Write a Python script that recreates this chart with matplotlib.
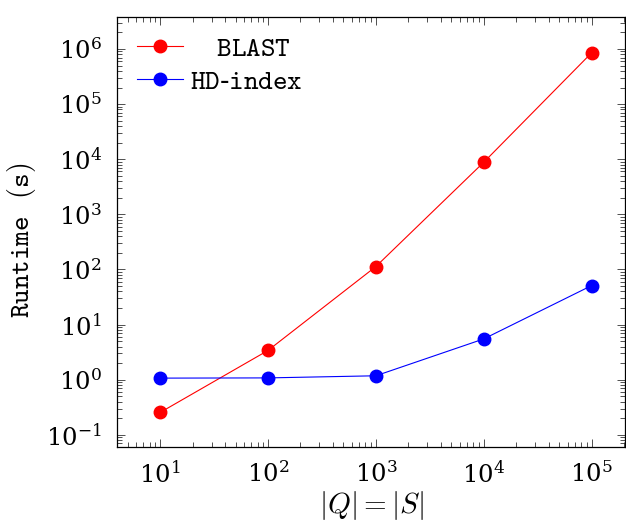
import matplotlib
matplotlib.use("Agg")
import matplotlib.pyplot as plt
from matplotlib.ticker import LogLocator, NullFormatter

plt.rcParams['mathtext.fontset'] = 'cm'
plt.rcParams['font.family'] = 'serif'
plt.rcParams['font.serif'] = ['DejaVu Serif']

sizes = [1e1, 1e2, 1e3, 1e4, 1e5]
blast = [0.255, 3.4, 113, 8800, 8.5e5]
hd_index = [1.07, 1.08, 1.18, 5.5, 51]
series_names = [r'   $\mathtt{BLAST}$', r'$\mathtt{HD}$-$\mathtt{index}$']

fig = plt.figure(figsize=(6.26, 5.25), dpi=100)
ax = fig.add_axes([117 / 626, 78 / 525, 508 / 626, 430 / 525])

ax.plot(sizes, blast, color='red', lw=0.8, marker='o', ms=9,
        label=series_names[0])
ax.plot(sizes, hd_index, color='blue', lw=0.8, marker='o', ms=9,
        label=series_names[1])

ax.set_xscale('log')
ax.set_yscale('log')
ax.set_xlim(10 ** 0.60, 10 ** 5.31)
ax.set_ylim(10 ** -1.22, 10 ** 6.58)

ax.xaxis.set_major_locator(LogLocator(base=10, numticks=20))
ax.yaxis.set_major_locator(LogLocator(base=10, numticks=20))
for axis in (ax.xaxis, ax.yaxis):
    axis.set_minor_locator(LogLocator(base=10, subs=range(2, 10), numticks=50))
    axis.set_minor_formatter(NullFormatter())

ax.tick_params(which='both', direction='in', top=True, right=True,
               labelsize=17.5, width=0.6, color='#333333')
ax.tick_params(which='major', length=6)
ax.tick_params(axis='y', which='major', pad=11)
ax.tick_params(axis='x', which='major', pad=10)
ax.tick_params(which='minor', length=3.5)
for s in ax.spines.values():
    s.set_linewidth(0.9)

ax.set_xlabel(r'$|Q| = |S|$', fontsize=21, labelpad=1)
ax.set_ylabel(r'$\mathtt{Runtime}$  $\mathtt{(s)}$', fontsize=20, labelpad=4)
ax.yaxis.set_label_coords(-0.155, 0.48)

leg = ax.legend(loc='upper left', frameon=False, fontsize=20,
                handlelength=1.65, handletextpad=0.25, labelspacing=0.22,
                borderaxespad=0.0, bbox_to_anchor=(0.018, 0.985))

fig.savefig('out.png', dpi=100)
